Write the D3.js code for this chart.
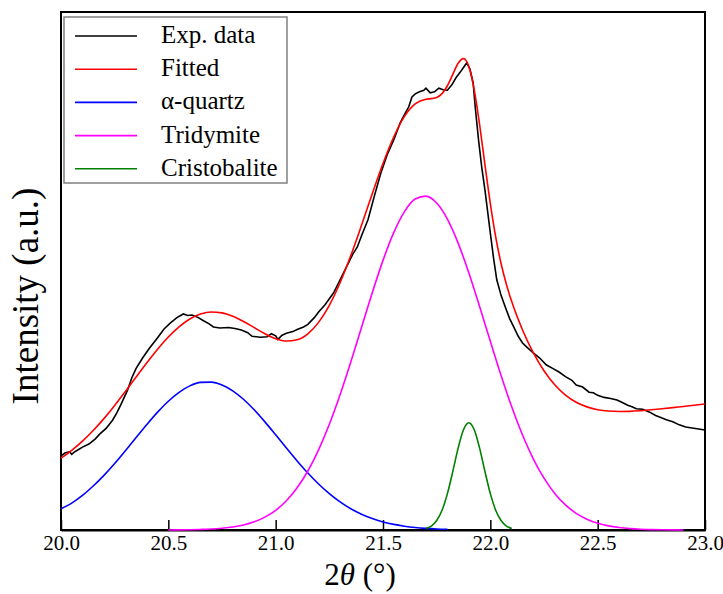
<!DOCTYPE html>
<html>
<head>
<meta charset="utf-8">
<script src="https://cdn.jsdelivr.net/npm/d3@7"></script>
<style>
  body { margin: 0; background: #fff; }
  svg text { font-family: "Liberation Serif", "Times New Roman", serif !important; }
</style>
</head>
<body>
<svg id="grafico"></svg>
<script>
// 2theta (deg), intensity (a.u., 0-100 of the plot height)
const expData = [
  [20.00, 14.3], [20.02, 14.9], [20.04, 15.1], [20.05, 14.6], [20.06, 15.0], [20.08, 15.5],
  [20.10, 16.0], [20.13, 16.6], [20.16, 17.6], [20.18, 18.5], [20.21, 19.6], [20.24, 21.2],
  [20.26, 22.6], [20.28, 24.3], [20.31, 27.0], [20.33, 29.4], [20.35, 31.2], [20.38, 33.2],
  [20.41, 35.0], [20.45, 37.1], [20.48, 38.8], [20.51, 40.0], [20.54, 41.0], [20.57, 41.7],
  [20.59, 41.4], [20.61, 41.5], [20.64, 41.0], [20.66, 40.5], [20.69, 39.8], [20.71, 39.2],
  [20.74, 39.0], [20.78, 39.1], [20.81, 38.9], [20.84, 38.6], [20.87, 38.1], [20.89, 37.4],
  [20.93, 37.2], [20.96, 37.3], [20.98, 37.9], [21.00, 37.5], [21.01, 36.8], [21.03, 37.6],
  [21.05, 38.0], [21.08, 38.3], [21.10, 38.7], [21.13, 39.2], [21.15, 39.7], [21.18, 41.0],
  [21.20, 42.1], [21.23, 43.5], [21.27, 45.8], [21.30, 48.3], [21.33, 50.8], [21.36, 53.3],
  [21.38, 54.6], [21.40, 56.8], [21.43, 59.9], [21.46, 64.5], [21.49, 68.9], [21.52, 72.5],
  [21.55, 75.3], [21.58, 78.6], [21.60, 80.2], [21.62, 81.7], [21.635, 83.6], [21.65, 84.2],
  [21.67, 84.6], [21.69, 84.9], [21.70, 85.3], [21.72, 84.4], [21.74, 84.6], [21.76, 85.3],
  [21.78, 85.0], [21.80, 84.9], [21.82, 85.9], [21.84, 87.3], [21.86, 88.4], [21.875, 89.3],
  [21.89, 90.2], [21.905, 89.0], [21.92, 86.3], [21.93, 81.5], [21.945, 75.3], [21.96, 70.0],
  [21.975, 65.6], [22.00, 57.3], [22.015, 52.5], [22.03, 48.3], [22.05, 45.3], [22.07, 43.0],
  [22.09, 40.8], [22.11, 39.1], [22.13, 37.4], [22.15, 36.1], [22.17, 35.3], [22.20, 34.2],
  [22.23, 33.2], [22.26, 31.9], [22.29, 31.2], [22.32, 30.5], [22.35, 29.6], [22.38, 28.9],
  [22.40, 28.0], [22.43, 27.6], [22.46, 26.6], [22.48, 26.5], [22.50, 26.0], [22.53, 25.6],
  [22.56, 25.4], [22.59, 25.1], [22.61, 24.7], [22.64, 24.1], [22.66, 23.8], [22.68, 23.4],
  [22.71, 23.3], [22.74, 22.8], [22.77, 22.1], [22.80, 21.6], [22.82, 21.3], [22.85, 20.9],
  [22.88, 20.3], [22.91, 19.9], [22.94, 19.7], [22.97, 19.5], [23.00, 19.3]
];

const fitted = [
  [20.00, 13.87], [20.05, 15.38], [20.10, 17.15], [20.15, 19.21], [20.20, 21.50], [20.25, 24.04],
  [20.30, 26.75], [20.35, 29.53], [20.40, 32.28], [20.45, 34.90], [20.50, 37.26], [20.55, 39.22],
  [20.60, 40.74], [20.65, 41.70], [20.70, 42.08], [20.75, 41.92], [20.80, 41.27], [20.85, 40.26],
  [20.90, 39.07], [20.95, 37.89], [21.00, 36.94], [21.05, 36.48], [21.10, 36.73], [21.15, 37.88],
  [21.20, 40.08], [21.25, 43.38], [21.30, 47.73], [21.35, 52.98], [21.40, 58.84], [21.45, 64.92],
  [21.50, 70.77], [21.55, 75.87], [21.60, 79.84], [21.65, 82.25], [21.70, 83.17], [21.725, 83.27],
  [21.75, 83.50], [21.775, 84.24], [21.80, 85.76], [21.825, 87.96], [21.85, 90.10], [21.875, 90.99],
  [21.90, 89.44], [21.925, 84.98], [21.95, 78.28], [21.975, 70.49], [22.00, 63.01], [22.025, 56.58],
  [22.05, 51.45], [22.075, 47.38], [22.10, 44.04], [22.15, 38.62], [22.20, 34.23], [22.25, 30.73],
  [22.30, 28.03], [22.35, 26.05], [22.40, 24.67], [22.45, 23.77], [22.50, 23.23], [22.55, 22.96],
  [22.60, 22.88], [22.65, 22.91], [22.70, 23.03], [22.75, 23.20], [22.80, 23.40], [22.85, 23.62],
  [22.90, 23.85], [22.95, 24.08], [23.00, 24.32]
];

const quartz = [
  [20.00, 4.10], [20.05, 5.20], [20.10, 6.67], [20.15, 8.49], [20.20, 10.55], [20.25, 12.85],
  [20.30, 15.32], [20.35, 17.86], [20.40, 20.37], [20.45, 22.75], [20.50, 24.86], [20.55, 26.58],
  [20.60, 27.82], [20.65, 28.49], [20.70, 28.55], [20.75, 28.00], [20.80, 26.87], [20.85, 25.24],
  [20.90, 23.20], [20.95, 20.87], [21.00, 18.37], [21.05, 15.82], [21.10, 13.34], [21.15, 11.00],
  [21.20, 8.88], [21.25, 7.02], [21.30, 5.42], [21.35, 4.10], [21.40, 3.04], [21.45, 2.20],
  [21.50, 1.56], [21.55, 1.08], [21.60, 0.74], [21.65, 0.49], [21.70, 0.32], [21.75, 0.20],
  [21.80, 0.13]
];

const tridymite = [
  [20.50, 0.01], [20.55, 0.03], [20.60, 0.06], [20.65, 0.11], [20.70, 0.19], [20.75, 0.34],
  [20.80, 0.58], [20.85, 0.97], [20.90, 1.58], [20.95, 2.49], [21.00, 3.80], [21.05, 5.65],
  [21.10, 8.14], [21.15, 11.39], [21.20, 15.48], [21.25, 20.40], [21.30, 26.11], [21.35, 32.44],
  [21.40, 39.12], [21.45, 45.80], [21.50, 52.05], [21.55, 57.40], [21.60, 61.47], [21.65, 63.89],
  [21.70, 64.46], [21.75, 63.13], [21.80, 60.02], [21.85, 55.39], [21.90, 49.63], [21.95, 43.15],
  [22.00, 36.43], [22.05, 29.85], [22.10, 23.74], [22.15, 18.33], [22.20, 13.74], [22.25, 10.00],
  [22.30, 7.06], [22.35, 4.84], [22.40, 3.22], [22.45, 2.08], [22.50, 1.30], [22.55, 0.79],
  [22.60, 0.47], [22.65, 0.27], [22.70, 0.15], [22.75, 0.08], [22.80, 0.04], [22.85, 0.02],
  [22.90, 0.01]
];

const cristobalite = [
  [21.70, 0.28], [21.725, 0.76], [21.75, 1.82], [21.775, 3.82], [21.80, 7.02], [21.825, 11.27],
  [21.85, 15.80], [21.875, 19.35], [21.90, 20.70], [21.925, 19.35], [21.95, 15.80], [21.975, 11.27],
  [22.00, 7.02], [22.025, 3.82], [22.05, 1.82], [22.075, 0.76], [22.10, 0.28]
];

const xTicks = [20.0, 20.5, 21.0, 21.5, 22.0, 22.5, 23.0];
const legendNames = ['Exp. data', 'Fitted', 'α-quartz', 'Tridymite', 'Cristobalite'];
const legendColors = ['#000000', '#ff0000', '#0000ff', '#ff00ff', '#008000'];

const serifa = '"Liberation Serif", "Times New Roman", serif';

let largura = 723, altura = 594;
let margem = { esquerda: 61, direita: 18, superior: 12, inferior: 64 };
let larguraPlot = largura - margem.esquerda - margem.direita;
let alturaPlot = altura - margem.superior - margem.inferior;

let svg = d3.select('#grafico')
  .attr('width', largura)
  .attr('height', altura)
  .attr('font-family', serifa);

let plot = svg.append('g')
  .attr('transform', 'translate(' + margem.esquerda + ',' + margem.superior + ')');

let fnX = d3.scaleLinear().domain([20, 23]).range([0, larguraPlot]);
let fnY = d3.scaleLinear().domain([0, 100]).range([alturaPlot, 0]);

// frame
plot.append('rect')
  .attr('width', larguraPlot)
  .attr('height', alturaPlot)
  .attr('fill', 'none')
  .attr('stroke', '#000')
  .attr('stroke-width', 2);

let eixoX = d3.axisBottom(fnX)
  .tickValues(xTicks)
  .tickFormat(d3.format('.1f'))
  .tickSizeInner(-10)
  .tickSizeOuter(0)
  .tickPadding(5);

let gx = plot.append('g')
  .attr('transform', 'translate(0,' + alturaPlot + ')')
  .call(eixoX)
  .attr('font-family', serifa)
  .attr('font-size', 21);
gx.select('.domain').attr('stroke-width', 2);
gx.selectAll('.tick line').attr('stroke-width', 1.5);
gx.selectAll('.tick text')
  .style('font-family', serifa)
  .attr('fill', '#000');

let linhaSuave = d3.line()
  .x((d) => fnX(d[0]))
  .y((d) => fnY(d[1]))
  .curve(d3.curveMonotoneX);

let linhaReta = d3.line()
  .x((d) => fnX(d[0]))
  .y((d) => fnY(d[1]));

plot.append('path').datum(expData)
  .attr('d', linhaReta).attr('fill', 'none')
  .attr('stroke', legendColors[0]).attr('stroke-width', 1.6);
plot.append('path').datum(fitted)
  .attr('d', linhaSuave).attr('fill', 'none')
  .attr('stroke', legendColors[1]).attr('stroke-width', 1.6);
plot.append('path').datum(quartz)
  .attr('d', linhaSuave).attr('fill', 'none')
  .attr('stroke', legendColors[2]).attr('stroke-width', 1.6);
plot.append('path').datum(tridymite)
  .attr('d', linhaSuave).attr('fill', 'none')
  .attr('stroke', legendColors[3]).attr('stroke-width', 1.6);
plot.append('path').datum(cristobalite)
  .attr('d', linhaSuave).attr('fill', 'none')
  .attr('stroke', legendColors[4]).attr('stroke-width', 1.6);

// legend
let legenda = svg.append('g');
legenda.append('rect')
  .attr('x', 64).attr('y', 17)
  .attr('width', 223).attr('height', 166)
  .attr('fill', '#fff')
  .attr('stroke', '#808080')
  .attr('stroke-width', 1.5);

let itens = legenda.selectAll('.item')
  .data(legendNames)
  .enter()
  .append('g')
  .classed('item', true)
  .attr('transform', (d, i) => 'translate(0,' + (36 + i * 33.2) + ')');
itens.append('line')
  .attr('x1', 75).attr('x2', 137)
  .attr('stroke', (d, i) => legendColors[i])
  .attr('stroke-width', 1.6);
itens.append('text')
  .attr('x', 161).attr('y', 7)
  .attr('font-size', 25)
  .text((d) => d);

// axis titles
let tituloX = svg.append('text')
  .attr('x', 360).attr('y', 585)
  .attr('text-anchor', 'middle')
  .attr('font-size', 31);
tituloX.append('tspan').text('2');
tituloX.append('tspan').attr('font-style', 'italic').text('θ');
tituloX.append('tspan').text(' (°)');

svg.append('text')
  .attr('transform', 'translate(38,296) rotate(-90)')
  .attr('text-anchor', 'middle')
  .attr('font-size', 37)
  .text('Intensity (a.u.)');
</script>
</body>
</html>
